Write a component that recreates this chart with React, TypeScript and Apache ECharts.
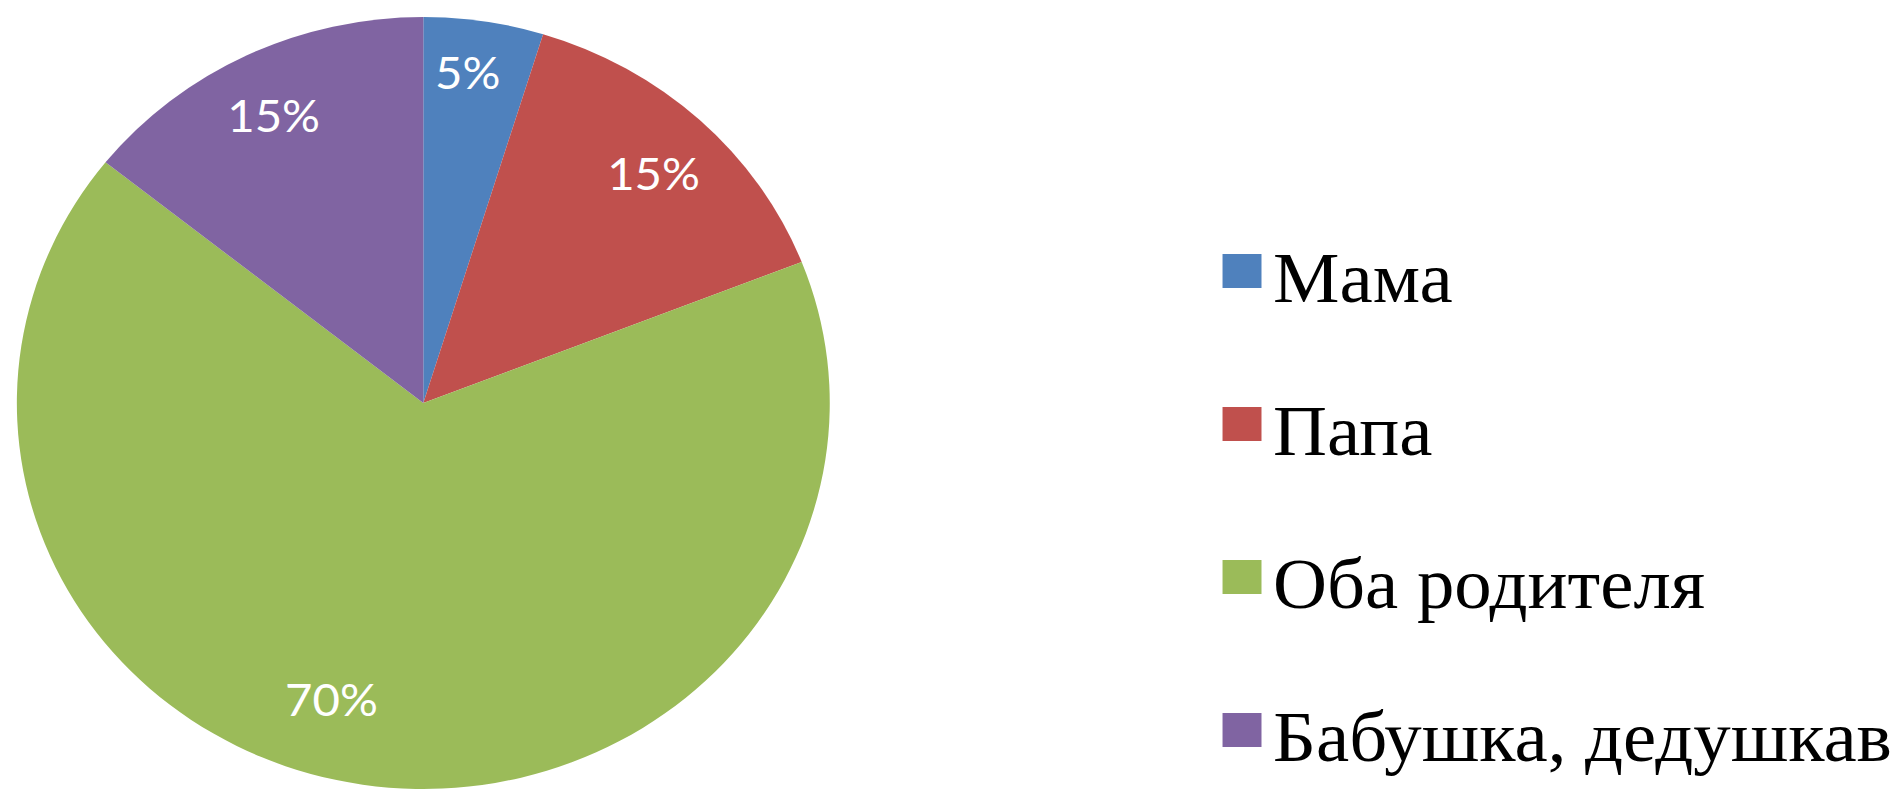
import React, { useEffect, useRef } from "react";
import * as echarts from "echarts";

const categories = ["Мама", "Папа", "Оба родителя", "Бабушка, дедушкав"];
const values = [5, 15, 70, 15];
const colors = ["#4F81BD", "#C0504D", "#9BBB59", "#8064A2"];

// small label nudges (styling) to mimic the original's best-fit placement
const labelNudgeX = [-6, -1, -39, -2];
const labelNudgeY = [-12, 6, -24, 2];

// the original picture is stretched horizontally
const STRETCH = 1.053;
const W = 1898;
const H = 792;

// legend marker: a 37x34 square sitting at the top of a 37x48 box
const LEGEND_ICON = "path://M0,0L37,0L37,34L0,34Z M0,48L0.01,48";

export default function App() {
  const ref = useRef<HTMLDivElement>(null);

  useEffect(() => {
    document.body.style.margin = "0";
    const chart = echarts.init(ref.current!, undefined, { renderer: "svg" });
    const center = [402, 403];
    const R = 386;
    chart.setOption({
      animation: false,
      backgroundColor: "#ffffff",
      legend: {
        orient: "vertical",
        left: 1161,
        top: 238,
        padding: 0,
        itemWidth: 37,
        itemHeight: 48,
        itemGap: 73,
        icon: LEGEND_ICON,
        selectedMode: false,
        data: categories,
        itemStyle: { borderWidth: 0 },
        textStyle: {
          fontFamily: "Liberation Serif",
          fontSize: 71,
          color: "#000000",
          lineHeight: 80,
          padding: [0, 0, 0, 6],
        },
      },
      series: [
        {
          type: "pie",
          center,
          radius: [0, R],
          startAngle: 90,
          clockwise: true,
          silent: true,
          label: { show: false },
          labelLine: { show: false },
          itemStyle: { borderWidth: 0 },
          data: categories.map((name, i) => ({
            name,
            value: values[i],
            itemStyle: { color: colors[i] },
          })),
        },
        {
          type: "pie",
          center,
          radius: [254, R],
          startAngle: 90,
          clockwise: true,
          silent: true,
          avoidLabelOverlap: false,
          itemStyle: { color: "rgba(0,0,0,0)", borderWidth: 0 },
          labelLine: { show: false },
          label: {
            show: true,
            position: "inside",
            formatter: (p: any) => `${p.value}%`,
            color: "#ffffff",
            fontFamily: "Lato",
            fontSize: 45,
            fontWeight: "normal",
          },
          labelLayout: (p: any) => ({
            dx: labelNudgeX[p.dataIndex],
            dy: labelNudgeY[p.dataIndex],
          }),
          data: categories.map((name, i) => ({
            name,
            value: values[i],
            itemStyle: { color: "rgba(0,0,0,0)" },
          })),
        },
      ],
    });
    return () => chart.dispose();
  }, []);

  return (
    <div style={{ width: W, height: H, overflow: "hidden", position: "relative" }}>
      <div
        ref={ref}
        style={{
          width: Math.round(W / STRETCH),
          height: H,
          transform: `scaleX(${STRETCH})`,
          transformOrigin: "0 0",
        }}
      />
    </div>
  );
}
